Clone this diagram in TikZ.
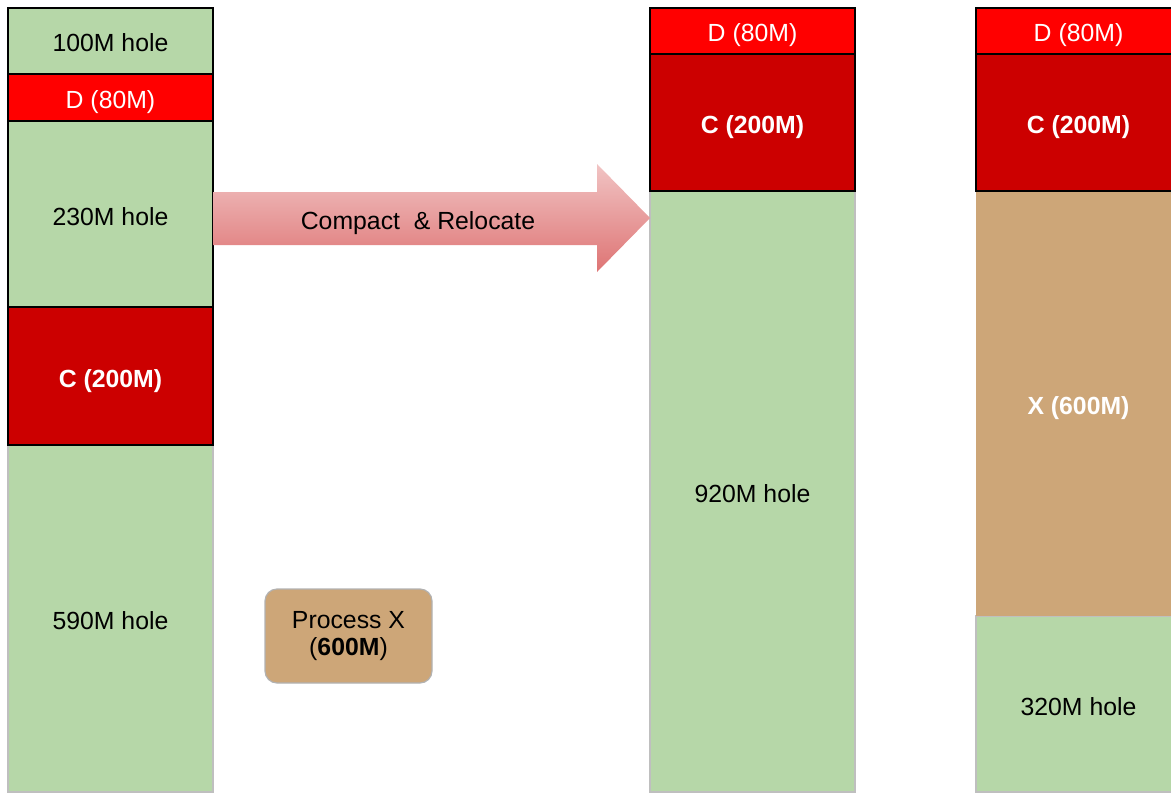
\documentclass[tikz,border=0pt]{standalone}
\usepackage{fontspec}
\setmainfont{Liberation Sans}
\definecolor{holegreen}{HTML}{B6D7A8}
\definecolor{procred}{HTML}{FF0000}
\definecolor{procdark}{HTML}{CC0000}
\definecolor{proctan}{HTML}{CDA678}
\definecolor{arrtop}{HTML}{F1C4C4}
\definecolor{arrbot}{HTML}{DE7474}

\begin{document}
\begin{tikzpicture}
[x=0.5pt, y=-0.5pt,
 label/.style={font=\fontsize{12.4}{14}\selectfont, text height=11pt, text depth=0pt},
 block/.style={rectangle, inner sep=0pt, outer sep=0pt, minimum width=102.5pt, label},
 hole/.style={block, fill=holegreen, draw=black, line width=1.2pt},
 openhole/.style={block, fill=holegreen, draw=black!25, line width=0.6pt},
 small/.style={block, fill=procred, draw=black, line width=1.2pt, text=white},
 big/.style={block, fill=procdark, draw=black, line width=1.2pt, text=white, font=\fontsize{12.4}{14}\selectfont\bfseries}]

\useasboundingbox (0,0) rectangle (1171,792);
\clip (0,0) rectangle (1171,792);

%Left column
\node[openhole, minimum height=173.5pt] (hole590) at (110.5,618.5) {590M hole};
\node[hole, minimum height=33pt] (hole100) at (110.5,41) {100M hole};
\node[small, minimum height=23.5pt] (leftD) at (110.5,97.5) {D (80M)};
\node[hole, minimum height=93pt] (hole230) at (110.5,214) {230M hole};
\node[big, minimum height=69pt] (leftC) at (110.5,376) {C (200M)};

%Middle column
\node[openhole, minimum height=300.5pt] (hole920) at (752.5,491.5) {920M hole};
\node[small, minimum height=23pt] (midD) at (752.5,31) {D (80M)};
\node[big, minimum height=68.5pt] (midC) at (752.5,122.5) {C (200M)};

%Right column
\node[openhole, minimum height=88pt] (hole320) at (1078.5,704) {320M hole};
\node[block, fill=proctan, minimum height=212.5pt, text=white, font=\fontsize{12.4}{14}\selectfont\bfseries] (rightX) at (1078.5,403.5) {X (600M)};
\node[small, minimum height=23pt] (rightD) at (1078.5,31) {D (80M)};
\node[big, minimum height=68.5pt] (rightC) at (1078.5,122.5) {C (200M)};

%New process
\node[rectangle, rounded corners=6pt, fill=proctan, draw=black!30, line width=0.6pt, minimum width=83.5pt, minimum height=47pt, align=center, font=\fontsize{12.4}{13.5}\selectfont] (newX) at (348.5,636) {Process X\\(\textbf{600M})};

%Arrow
\coordinate (tail) at (hole230.east |- 0,218);
\coordinate (tip) at (hole920.west |- 0,218);
\shade[top color=arrtop, bottom color=arrbot] (tail) ++(0,-26) -- ++(384,0) -- ++(0,-28) -- (tip) -- ++(-53,54) -- ++(0,-27) -- ++(-384,0) -- cycle;
\node[label] (relocate) at (418,218) {Compact\ \ \& Relocate};

\end{tikzpicture}
\end{document}
